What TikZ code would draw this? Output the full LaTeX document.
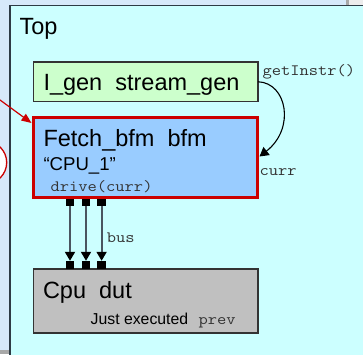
\documentclass[tikz,border=0pt]{standalone}
\usepackage{fontspec}
\setmainfont{Liberation Sans}
\setmonofont[FakeStretch=1.14]{Latin Modern Mono}
\usetikzlibrary{arrows.meta}
\definecolor{outerbg}{HTML}{D7E9FA}
\definecolor{topfill}{HTML}{CCFFFF}
\definecolor{topline}{HTML}{2E3B45}
\definecolor{igenfill}{HTML}{CCFFCC}
\definecolor{fetchfill}{HTML}{99CCFF}
\definecolor{fetchred}{HTML}{CC0000}
\definecolor{cpufill}{HTML}{C0C0C0}
\definecolor{boxline}{HTML}{333333}
\definecolor{busgrey}{HTML}{4A5560}
\definecolor{codegrey}{HTML}{333333}
\definecolor{scrollgrey}{HTML}{A8A8A8}
\definecolor{scrolllight}{HTML}{EDEDED}
\tikzset{
  boxbase/.style={rectangle, inner sep=0pt, outer sep=0pt, anchor=north west},
  igenbox/.style={boxbase, draw=boxline, fill=igenfill, line width=1.3pt},
  fetchbox/.style={boxbase, draw=fetchred, fill=fetchfill, line width=3pt},
  cpubox/.style={boxbase, draw=boxline, fill=cpufill, line width=1.3pt},
  pin/.style={rectangle, fill=black, inner sep=0pt, outer sep=0pt, minimum width=8.3pt, minimum height=7pt},
  lowpin/.style={pin, minimum height=8pt},
  busline/.style={draw=busgrey, line width=1.8pt, -{Triangle[length=9pt,width=10pt,fill=black,color=black]}},
  bigtxt/.style={inner sep=0pt, outer sep=0pt, anchor=base west, font=\fontsize{23.5}{28}\selectfont},
  midtxt/.style={inner sep=0pt, outer sep=0pt, anchor=base west, font=\fontsize{18.6}{22}\selectfont},
  smalltxt/.style={inner sep=0pt, outer sep=0pt, anchor=base west, font=\fontsize{15.8}{19}\selectfont},
  codetxt/.style={inner sep=0pt, outer sep=0pt, anchor=base west, text=codegrey, font=\ttfamily\fontsize{15.8}{19}\selectfont},
  curvearrow/.style={draw=black, line width=1.1pt, -{Triangle[length=9pt,width=10pt]}},
  redarrow/.style={draw=fetchred, line width=1.2pt, -{Triangle[length=10pt,width=8pt]}},
}
\begin{document}
\begin{tikzpicture}[x=1pt,y=-1pt]
\useasboundingbox (0,0) rectangle (363,354);
\clip (0,0) rectangle (363,354);
% backgrounds
\fill[outerbg] (0,0) rectangle (363,354);
\fill[scrollgrey] (346,0) rectangle (349,5);
\fill[scrolllight] (349,0) rectangle (363,5);
\fill[scrollgrey] (0,350) rectangle (9,354);
\draw[fetchred, fill=white, line width=1.3pt] (-14.6,162.5) circle (21.3);
\draw[topline, fill=topfill, line width=1.8pt] (10,5.5) rectangle (380,380);
\node[bigtxt] (toplbl) at (19.5,34.3) {Top};
% boxes
\node[igenbox, minimum width=224.5pt, minimum height=39.5pt] (igen) at (33.5,62) {};
\node[fetchbox, minimum width=224pt, minimum height=80pt] (fetch) at (33.5,117.5) {};
\node[cpubox, minimum width=224.5pt, minimum height=64pt] (cpu) at (33.5,269) {};
% texts
\node[bigtxt] (igentxt) at (43.5,90.6) {I\_gen\ \ stream\_gen};
\node[bigtxt] (fetchtxt) at (43.5,146) {Fetch\_bfm\ \ bfm};
\node[midtxt] (cputag) at (43.5,170) {“CPU\_1”};
\node[codetxt] (drivetxt) at (50.5,191.3) {drive(curr)};
\node[bigtxt] (cputxt) at (43,298.3) {Cpu\ \ dut};
\node[smalltxt] (justtxt) at (90.7,324) {Just executed};
\node[codetxt] (prevtxt) at (198.5,324) {prev};
\node[codetxt] (gettxt) at (262.5,75.3) {getInstr()};
\node[codetxt] (currtxt) at (259.5,175) {curr};
\node[codetxt] (bustxt) at (106.8,242.7) {bus};
% pins
\node[pin] (p1) at (70,202.5) {};
\node[pin] (p2) at (86,202.5) {};
\node[pin] (p3) at (101.6,202.5) {};
\node[lowpin] (q1) at (70,264.8) {};
\node[lowpin] (q2) at (86,264.8) {};
\node[lowpin] (q3) at (101.6,264.8) {};
\draw[busline] (p1.south) -- (q1.north);
\draw[busline] (p2.south) -- (q2.north);
\draw[busline] (p3.south) -- (q3.north);
% getInstr curve
\coordinate (currtip) at ([xshift=2pt,yshift=1pt]fetch.east);
\draw[curvearrow] (igen.east) .. controls +(29,1) and +(36,-28) .. (currtip);
% red arrow from outside
\coordinate (redstart) at (-3,97.8);
\coordinate (redtip) at (31.5,123);
\draw[redarrow] (redstart) -- (redtip);
\end{tikzpicture}
\end{document}
